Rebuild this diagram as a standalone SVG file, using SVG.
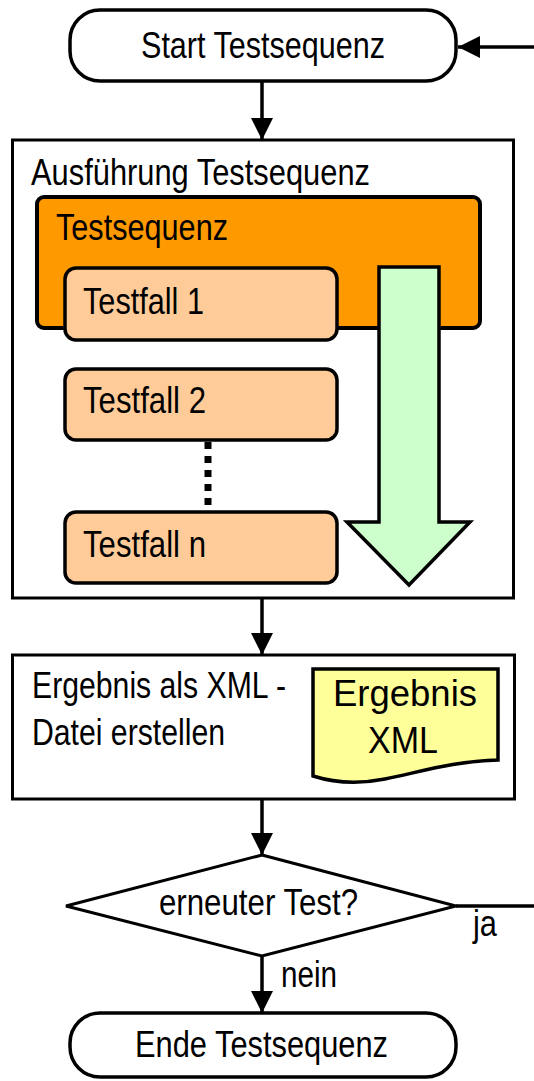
<svg xmlns="http://www.w3.org/2000/svg" width="534" height="1081" viewBox="0 0 534 1081">
<style>
text{font-family:"Liberation Sans",Arial,sans-serif;font-size:36px;fill:#000}
.box{fill:#fff;stroke:#000;stroke-width:3}
.term{fill:#fff;stroke:#000;stroke-width:3.5}
.tf{fill:#FFCC99;stroke:#000;stroke-width:3.5}
.con{fill:none;stroke:#000;stroke-width:3.5}
</style>
<defs>
<marker id="ah" viewBox="0 0 22 22" refX="22" refY="11" markerWidth="22" markerHeight="22" markerUnits="userSpaceOnUse" orient="auto">
<path d="M0,0 L22,11 L0,22 z" fill="#000"/>
</marker>
</defs>
<g id="start">
<rect class="term" x="70" y="10" width="386" height="71" rx="30" ry="30"/>
<text x="141" y="58" textLength="244" lengthAdjust="spacingAndGlyphs">Start Testsequenz</text>
</g>
<g id="ausfuehrung">
<rect class="box" x="12.5" y="140" width="501" height="458"/>
<text x="31" y="185" textLength="339" lengthAdjust="spacingAndGlyphs">Ausführung Testsequenz</text>
</g>
<g id="testsequenz">
<rect x="37" y="197" width="443" height="131" rx="7" fill="#FF9900" stroke="#000" stroke-width="4"/>
<text x="56" y="240" textLength="172" lengthAdjust="spacingAndGlyphs">Testsequenz</text>
</g>
<g id="testfall1">
<rect class="tf" x="65" y="268" width="272" height="72" rx="11"/>
<text x="83" y="314" textLength="121" lengthAdjust="spacingAndGlyphs">Testfall 1</text>
</g>
<g id="testfall2">
<rect class="tf" x="65" y="369" width="272" height="71" rx="11"/>
<text x="83" y="413" textLength="123" lengthAdjust="spacingAndGlyphs">Testfall 2</text>
</g>
<g id="testfalln">
<rect class="tf" x="65" y="512" width="272" height="71" rx="11"/>
<text x="83" y="557" textLength="123" lengthAdjust="spacingAndGlyphs">Testfall n</text>
</g>
<g id="ablauf">
<polygon points="379,267 439,267 439,522 470,522 409,585 347,522 379,522" fill="#CCFFCC" stroke="#000" stroke-width="3.5" stroke-linejoin="miter"/>
</g>
<g id="xmlbox">
<rect class="box" x="12.5" y="655" width="502" height="144"/>
<text x="32" y="698" textLength="254" lengthAdjust="spacingAndGlyphs">Ergebnis als XML -</text>
<text x="32" y="745" textLength="193" lengthAdjust="spacingAndGlyphs">Datei erstellen</text>
</g>
<g id="ergebnisxml">
<path d="M313,669 H498 V760 C455,761 420,772 385,779 C360,784 335,783 313,776 Z" fill="#FFFF99" stroke="#000" stroke-width="3.5"/>
<text x="333" y="706" textLength="144" lengthAdjust="spacingAndGlyphs">Ergebnis</text>
<text x="368" y="753" textLength="70" lengthAdjust="spacingAndGlyphs">XML</text>
</g>
<g id="entscheidung">
<polygon points="262,855 456,906 262,956 66,906" fill="#fff" stroke="#000" stroke-width="3"/>
<text x="159" y="915" textLength="199" lengthAdjust="spacingAndGlyphs">erneuter Test?</text>
</g>
<g id="ende">
<rect class="term" x="70" y="1013" width="386" height="64" rx="30" ry="30"/>
<text x="135" y="1057" textLength="253" lengthAdjust="spacingAndGlyphs">Ende Testsequenz</text>
</g>
<g id="connectors">
<path class="con" d="M262,81 V140" marker-end="url(#ah)"/>
<path class="con" d="M262,598 V655" marker-end="url(#ah)"/>
<path class="con" d="M262,799 V855" marker-end="url(#ah)"/>
<path class="con" d="M262,956 V1013" marker-end="url(#ah)"/>
<path class="con" d="M456,906 H548 V47 H458" marker-end="url(#ah)"/>
<line x1="208" y1="442" x2="208" y2="505" stroke="#000" stroke-width="7" stroke-dasharray="7 7"/>
<text x="473" y="936" textLength="24" lengthAdjust="spacingAndGlyphs">ja</text>
<text x="281" y="987" textLength="56" lengthAdjust="spacingAndGlyphs">nein</text>
</g>
</svg>
